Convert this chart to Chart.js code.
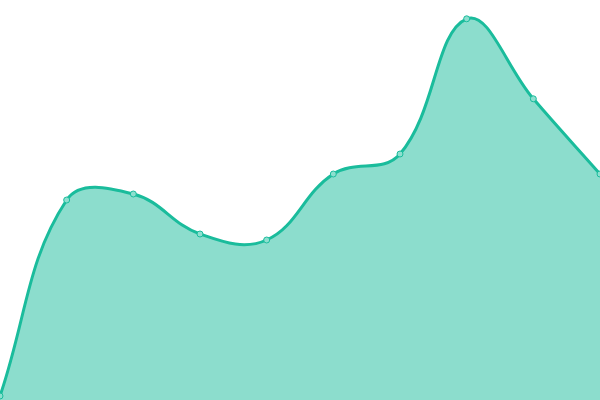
<!DOCTYPE html>
<html>
<head>
<meta charset="utf-8">
<script src="https://cdn.jsdelivr.net/npm/chart.js@4"></script>
<style>
  html, body { margin: 0; padding: 0; background: #fff; }
  #wrap { width: 600px; height: 400px; }
</style>
</head>
<body>
<div id="wrap"><canvas id="chart"></canvas></div>
<script>
const labels = ["1", "2", "3", "4", "5", "6", "7", "8", "9", "10"];
const values = [1, 50, 51.5, 41.5, 40, 56.5, 61.5, 95.3, 75.3, 56.5];

const ctx = document.getElementById("chart").getContext("2d");
new Chart(ctx, {
    type: "line",
    data: {
        labels: labels,
        datasets: [{
            data: values,
            fill: true,
            borderColor: "#1abc9c",
            backgroundColor: "rgba(26, 188, 156, 0.5)",
            borderWidth: 3,
            tension: 0.4,
            pointRadius: 3,
            pointBorderWidth: 1,
            pointBorderColor: "#1abc9c",
            pointBackgroundColor: "#8ddfcf"
        }]
    },
    options: {
        responsive: true,
        maintainAspectRatio: false,
        animation: false,
        layout: { padding: 0, autoPadding: false },
        plugins: {
            legend: { display: false },
            tooltip: { enabled: false }
        },
        scales: {
            x: { display: false, offset: false },
            y: { display: false, min: 0, max: 100 }
        }
    }
});
</script>
</body>
</html>
